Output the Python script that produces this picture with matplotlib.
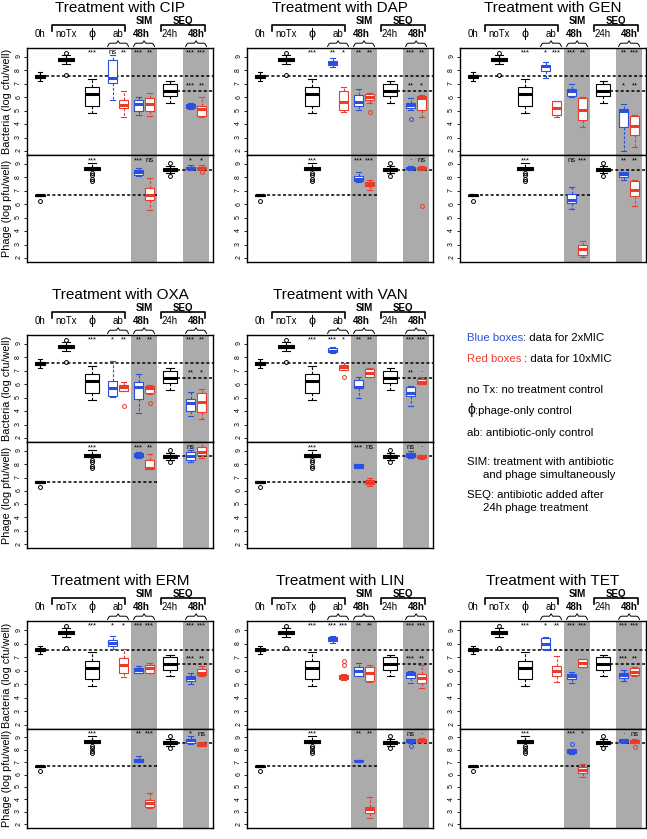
import matplotlib
matplotlib.use('Agg')
import matplotlib.pyplot as plt

plt.rcParams['font.family'] = ['Liberation Sans', 'DejaVu Sans']

W, H = 647, 839
BLUE = '#2b4fe0'
RED = '#eb3b2a'
GREY = '#ababab'

### box stats are (whislo, q1, med, q3, whishi)
### controls, identical in every panel
CTRL_BACT = [(7.22, 7.42, 7.55, 7.68, 7.85),   # 0h
             (8.48, 8.68, 8.80, 8.93, 9.15),   # noTx
             (4.86, 5.36, 6.23, 6.73, 7.35),   # phage only
             (5.60, 6.06, 6.50, 6.98, 7.18)]   # 24h
CTRL_BACT_OUT = [[], [9.30, 7.68], [], []]
CTRL_PHAGE = [(6.58, 6.60, 6.66, 6.72, 6.76),  # 0h
              (8.53, 8.53, 8.65, 8.75, 9.07),  # phage only
              (8.33, 8.45, 8.58, 8.70, 8.88)]  # 24h
CTRL_PHAGE_OUT = [[6.27], [8.33, 8.16, 7.88, 7.71], [9.07, 8.13]]

### treated boxes, bacteria order: ab 2x, ab 10x, SIM 2x, SIM 10x, SEQ 2x, SEQ 10x
### phage order: SIM 2x, SIM 10x, SEQ 2x, SEQ 10x
### outliers are (box index, value)
### significance: bacteria top = phi, ab2, ab10, SIM2, SIM10, SEQ2, SEQ10 ; seq = vs 24h ; phage = phi, SIM2, SIM10, SEQ2, SEQ10
CIP_BACT = [(5.80, 7.05, 7.40, 8.80, 9.15), (4.50, 5.18, 5.43, 5.80, 6.50),
            (4.70, 4.98, 5.48, 5.76, 6.05), (4.63, 4.98, 5.53, 5.98, 6.35),
            (5.10, 5.20, 5.35, 5.50, 5.60), (4.56, 4.64, 5.13, 5.35, 6.00)]
CIP_BACT_OUT = []
CIP_PHAGE = [(8.08, 8.20, 8.38, 8.53, 8.70), (5.55, 6.35, 6.72, 7.21, 7.96),
             (8.53, 8.60, 8.70, 8.80, 8.90), (8.55, 8.60, 8.70, 8.80, 8.90)]
CIP_PHAGE_OUT = [(3, 8.40)]
CIP_SIG = ['***', 'ns', '**', '***', '**', '***', '***']
CIP_SEQ_SIG = ['***', '**']
CIP_PHAGE_SIG = ['***', '***', 'ns', '*', '*']

DAP_BACT = [(8.25, 8.43, 8.55, 8.73, 8.90), (4.93, 5.06, 5.66, 6.43, 6.75),
            (5.06, 5.36, 5.63, 6.18, 6.60), (5.56, 5.80, 6.00, 6.25, 6.35),
            (5.05, 5.23, 5.43, 5.60, 5.93), (4.56, 5.06, 5.93, 6.10, 6.18)]
DAP_BACT_OUT = [(3, 4.93), (4, 4.36)]
DAP_PHAGE = [(7.64, 7.71, 7.88, 8.08, 8.43), (7.04, 7.34, 7.54, 7.66, 7.78),
             (8.53, 8.60, 8.68, 8.78, 8.88), (8.53, 8.60, 8.68, 8.80, 8.88)]
DAP_PHAGE_OUT = [(3, 5.90)]
DAP_SIG = ['***', '**', '*', '**', '**', '***', '**']
DAP_SEQ_SIG = ['**', '*']
DAP_PHAGE_SIG = ['***', '***', '***', '·', 'ns']

GEN_BACT = [(7.43, 7.93, 8.30, 8.43, 8.63), (4.51, 4.69, 5.18, 5.73, 5.75),
            (6.00, 6.10, 6.43, 6.60, 6.98), (3.81, 4.31, 5.06, 5.98, 6.05),
            (2.00, 3.81, 4.98, 5.10, 5.48), (2.32, 3.19, 3.86, 4.61, 4.69)]
GEN_BACT_OUT = []
GEN_PHAGE = [(5.65, 6.10, 6.35, 6.77, 7.29), (2.08, 2.25, 2.67, 3.00, 3.29),
             (7.83, 8.01, 8.28, 8.38, 8.38), (5.85, 6.59, 7.04, 7.71, 7.83)]
GEN_PHAGE_OUT = []
GEN_SIG = ['***', '*', '***', '***', '**', '**', '***']
GEN_SEQ_SIG = ['*', '**']
GEN_PHAGE_SIG = ['***', 'ns', '***', '**', '**']

OXA_BACT = [(5.04, 5.14, 5.71, 6.28, 7.74), (5.48, 5.53, 5.78, 5.97, 6.20),
            (3.85, 4.89, 5.83, 6.20, 6.77), (5.29, 5.34, 5.71, 5.88, 5.95),
            (3.65, 3.98, 4.59, 4.89, 5.46), (3.40, 3.90, 4.71, 5.34, 5.66)]
OXA_BACT_OUT = [(1, 4.40), (3, 4.64)]
OXA_PHAGE = [(8.50, 8.55, 8.73, 8.88, 8.92), (7.64, 7.64, 7.74, 8.30, 8.80),
             (8.20, 8.30, 8.63, 8.93, 9.10), (8.50, 8.68, 8.93, 9.30, 9.67)]
OXA_PHAGE_OUT = []
OXA_SIG = ['***', '*', '**', '**', '**', '***', '**']
OXA_SEQ_SIG = ['**', '*']
OXA_PHAGE_SIG = ['***', '***', '**', 'ns', '']

VAN_BACT = [(8.30, 8.38, 8.50, 8.68, 8.75), (7.07, 7.07, 7.27, 7.44, 7.56),
            (4.97, 5.71, 5.83, 6.33, 6.52), (6.57, 6.57, 6.82, 7.12, 7.19),
            (4.35, 5.09, 5.34, 5.78, 5.88), (6.03, 6.03, 6.20, 6.38, 6.57)]
VAN_BACT_OUT = [(1, 6.57)]
VAN_PHAGE = [(7.70, 7.74, 7.89, 8.01, 8.05), (6.33, 6.50, 6.70, 6.82, 6.95),
             (8.50, 8.55, 8.73, 8.88, 9.00), (8.40, 8.43, 8.55, 8.68, 8.72)]
VAN_PHAGE_OUT = []
VAN_SIG = ['***', '***', '*', '**', '**', '***', '***']
VAN_SEQ_SIG = ['**', '·']
VAN_PHAGE_SIG = ['***', '***', 'ns', 'ns', '·']

ERM_BACT = [(7.60, 7.79, 8.08, 8.26, 8.53), (5.56, 5.86, 6.40, 6.97, 7.64),
            (5.80, 5.86, 6.03, 6.23, 6.35), (5.82, 5.86, 6.23, 6.40, 6.60),
            (4.99, 5.24, 5.44, 5.61, 5.80), (5.63, 5.66, 5.86, 6.10, 6.35)]
ERM_BACT_OUT = []
ERM_PHAGE = [(6.98, 7.02, 7.14, 7.27, 7.51), (3.30, 3.38, 3.70, 3.95, 4.55),
             (8.45, 8.58, 8.75, 8.90, 9.07), (8.30, 8.33, 8.45, 8.58, 8.62)]
ERM_PHAGE_OUT = []
ERM_SIG = ['***', '*', '*', '***', '***', '***', '***']
ERM_SEQ_SIG = ['***', '**']
ERM_PHAGE_SIG = ['***', '**', '***', '*', 'ns']

LIN_BACT = [(8.03, 8.16, 8.33, 8.50, 8.58), (5.31, 5.41, 5.56, 5.66, 5.73),
            (5.58, 5.61, 5.98, 6.28, 6.60), (5.16, 5.24, 5.86, 6.30, 6.40),
            (5.11, 5.49, 5.73, 5.91, 5.98), (4.74, 5.06, 5.49, 5.73, 6.40)]
LIN_BACT_OUT = [(1, 6.72), (1, 6.42)]
LIN_PHAGE = [(7.05, 7.07, 7.12, 7.17, 7.19), (2.52, 2.89, 3.20, 3.38, 4.17),
             (8.58, 8.63, 8.73, 8.83, 8.88), (8.60, 8.63, 8.75, 8.88, 8.92)]
LIN_PHAGE_OUT = [(2, 8.33)]
LIN_SIG = ['***', '***', '***', '**', '**', '***', '***']
LIN_SEQ_SIG = ['***', '**']
LIN_PHAGE_SIG = ['***', '**', '**', 'ns', '·']

TET_BACT = [(7.55, 7.59, 7.96, 8.38, 8.46), (5.16, 5.61, 5.98, 6.35, 7.10),
            (5.11, 5.41, 5.61, 5.78, 5.90), (6.28, 6.30, 6.60, 6.84, 6.90),
            (5.24, 5.49, 5.66, 5.86, 6.03), (5.63, 5.66, 5.91, 6.18, 6.30)]
TET_BACT_OUT = []
TET_PHAGE = [(7.68, 7.71, 7.89, 8.03, 8.08), (5.78, 6.10, 6.35, 6.65, 6.85),
             (8.58, 8.63, 8.73, 8.83, 8.88), (8.52, 8.55, 8.68, 8.80, 8.83)]
TET_PHAGE_OUT = [(0, 8.45), (3, 8.20)]
TET_SIG = ['***', '*', '**', '***', '***', '***', '***']
TET_SEQ_SIG = ['***', '**']
TET_PHAGE_SIG = ['***', '***', '*', '·', 'ns']

DRUGS = ['CIP', 'DAP', 'GEN', 'OXA', 'VAN', 'ERM', 'LIN', 'TET']
GRID = [(0, 0), (0, 1), (0, 2), (1, 0), (1, 1), (2, 0), (2, 1), (2, 2)]

HEAD_LABELS = ['0h', 'noTx', 'ϕ', 'ab', '48h', '24h', '48h']

# layout in pixels
COL_PX = [(27, 213), (247, 433), (460, 646)]
ROW_PX = [(48, 155, 262), (335, 442, 548), (621, 729, 828)]
XPOS = [1, 2, 3, 4, 5, 6, 7]
OFF = 0.21
XLIM = (0.5, 7.65)
YLIM = (1.7, 9.67)

fig = plt.figure(figsize=(W / 100, H / 100), dpi=100)


def to_fig(l, r, t, b):
    return [l / W, 1 - b / H, (r - l) / W, (b - t) / H]


def box(ax, s, pos, width, color, out):
    d = dict(whislo=s[0], q1=s[1], med=s[2], q3=s[3], whishi=s[4], fliers=out)
    ax.bxp([d], positions=[pos], widths=[width], capwidths=[width * 0.5],
           patch_artist=True, manage_ticks=False,
           boxprops=dict(facecolor='white', edgecolor=color, lw=0.8),
           medianprops=dict(color=color, lw=2.2, solid_capstyle='butt'),
           whiskerprops=dict(color=color, lw=0.8, ls=(0, (2.5, 1.5))),
           capprops=dict(color=color, lw=0.8),
           flierprops=dict(marker='o', mfc='none', mec=color, ms=2.8, mew=0.7))


def setup(ax):
    ax.set_xlim(*XLIM)
    ax.set_ylim(*YLIM)
    ax.set_xticks([])
    ax.set_yticks(range(2, 10))
    ax.tick_params(axis='y', length=2.5, width=0.6, labelsize=5, pad=1, labelrotation=90)
    for s in ax.spines.values():
        s.set_linewidth(1.0)
    ax.axvspan(4.5, 5.5, color=GREY, lw=0, zorder=0)
    ax.axvspan(6.5, 7.5, color=GREY, lw=0, zorder=0)


def yhead(ax, dpx):
    return 1 + dpx / (ax.get_position().height * H)


def dash(ax, x0, x1, y):
    ax.plot([x0, x1], [y, y], color='k', lw=1.1, ls=(0, (2, 1.5)), zorder=1.5)


def stars(ax, xs, labels, y):
    for x, s in zip(xs, labels):
        ax.text(x, y, s, ha='center', va='center', fontsize=5.5, zorder=3)


for drug, (row, col) in zip(DRUGS, GRID):
    bact = globals()[drug + '_BACT']
    bact_out = globals()[drug + '_BACT_OUT']
    phage = globals()[drug + '_PHAGE']
    phage_out = globals()[drug + '_PHAGE_OUT']
    sig = globals()[drug + '_SIG']
    seq_sig = globals()[drug + '_SEQ_SIG']
    phage_sig = globals()[drug + '_PHAGE_SIG']

    l, r = COL_PX[col]
    t, m, b = ROW_PX[row]
    axb = fig.add_axes(to_fig(l, r, t, m))
    axp = fig.add_axes(to_fig(l, r, m, b))
    setup(axb)
    setup(axp)

    # bacteria
    for s, x, w, out in zip(CTRL_BACT, [1, 2, 3, 6], [0.36, 0.6, 0.55, 0.55], CTRL_BACT_OUT):
        box(axb, s, x, w, 'k', out)
    pair_x = [4 - OFF, 4 + OFF, 5 - OFF, 5 + OFF, 7 - OFF, 7 + OFF]
    for i, (s, x) in enumerate(zip(bact, pair_x)):
        out = [v for j, v in bact_out if j == i]
        box(axb, s, x, 0.36, BLUE if i % 2 == 0 else RED, out)
    dash(axb, 1.23, XLIM[1], CTRL_BACT[0][2])
    dash(axb, 6.27, XLIM[1], CTRL_BACT[3][2])
    stars(axb, [3] + pair_x, sig, 9.3)
    stars(axb, pair_x[4:], seq_sig, 6.85)

    # phage
    for s, x, w, out in zip(CTRL_PHAGE, [1, 3, 6], [0.42, 0.58, 0.55], CTRL_PHAGE_OUT):
        box(axp, s, x, w, 'k', out)
    pp = [5 - OFF, 5 + OFF, 7 - OFF, 7 + OFF]
    for i, (s, x) in enumerate(zip(phage, pp)):
        out = [v for j, v in phage_out if j == i]
        box(axp, s, x, 0.36, BLUE if i % 2 == 0 else RED, out)
    dash(axp, 1.27, 5.5, CTRL_PHAGE[0][2])
    dash(axp, 6.27, XLIM[1], CTRL_PHAGE[2][2])
    stars(axp, [3] + pp, phage_sig, 9.25)

    # header above the bacteria axes
    tr = axb.get_xaxis_transform()
    axb.text(0.5, yhead(axb, 40), 'Treatment with ' + drug, transform=axb.transAxes,
             ha='center', va='center', fontsize=11)
    for x, lab in zip(XPOS, HEAD_LABELS):
        bold = lab == '48h'
        axb.text(x - (0.1 if x == 5 else 0), yhead(axb, 14), lab, transform=tr,
                 ha='center', va='center', clip_on=False,
                 fontsize=9 if lab == 'ϕ' else 7, fontweight='bold' if bold else 'normal')
    axb.text(5.0, yhead(axb, 27), 'SIM', transform=tr, ha='center', va='center',
             fontsize=7, fontweight='bold')
    axb.text(6.5, yhead(axb, 27), 'SEQ', transform=tr, ha='center', va='center',
             fontsize=7, fontweight='bold')
    for x0, x1 in [(1.46, 4.25), (5.66, 7.35)]:
        axb.plot([x0, x0, x1, x1], [yhead(axb, v) for v in (17, 23, 23, 17)],
                 transform=tr, color='k', lw=1.2, clip_on=False)
    for xc in [4, 5, 7]:
        x0, x1 = xc - 0.4, xc + 0.4
        xs = [x0, x0 + 0.04, x0 + 0.1, xc - 0.06, xc, xc + 0.06, x1 - 0.1, x1 - 0.04, x1]
        ys = [1.5, 3.8, 4.8, 4.8, 7.2, 4.8, 4.8, 3.8, 1.5]
        axb.plot(xs, [yhead(axb, v) for v in ys], transform=tr, color='k', lw=0.7,
                 clip_on=False)

    if col == 0:
        fig.text(7 / W, 1 - (t + m) / 2 / H, 'Bacteria (log cfu/well)', rotation=90,
                 ha='center', va='center', fontsize=7.8)
        fig.text(7 / W, 1 - (m + b) / 2 / H, 'Phage (log pfu/well)', rotation=90,
                 ha='center', va='center', fontsize=7.8)

# legend text in the empty slot
LEGEND = [(467, 341, [('Blue boxes', BLUE), (': data for 2xMIC', 'k')]),
          (467, 362, [('Red boxes', RED), (' : data for 10xMIC', 'k')]),
          (467, 393, [('no Tx: no treatment control', 'k')]),
          (467, 414, [('ϕ', 'k'), (':phage-only control', 'k')]),
          (467, 436, [('ab: antibiotic-only control', 'k')]),
          (467, 465, [('SIM: treatment with antibiotic', 'k')]),
          (483, 478, [('and phage simultaneously', 'k')]),
          (467, 498, [('SEQ: antibiotic added after', 'k')]),
          (483, 511, [('24h phage treatment', 'k')])]
renderer = fig.canvas.get_renderer()
for x, y, parts in LEGEND:
    for txt, c in parts:
        size = 10 if txt == 'ϕ' else 8.2
        t = fig.text(x / W, 1 - y / H, txt, color=c, fontsize=size, ha='left', va='baseline')
        x = t.get_window_extent(renderer=renderer).x1

fig.savefig('out.png', dpi=100)
